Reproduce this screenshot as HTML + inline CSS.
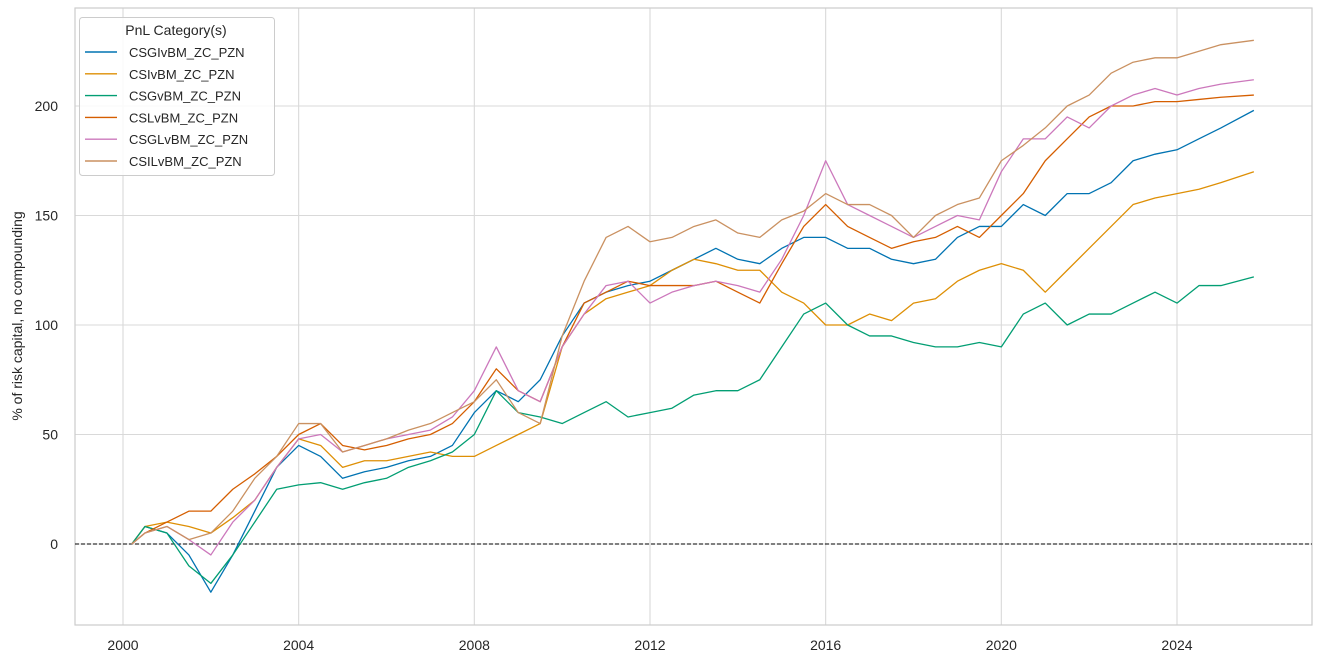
<!DOCTYPE html>
<html><head><meta charset="utf-8"><style>
body{margin:0;background:#fff;}
svg{display:block;font-family:"Liberation Sans",Arial,sans-serif;}
</style></head><body>
<svg id="chart" width="1321" height="664"></svg>
<script>
const dates=[2000.2,2000.5,2001,2001.5,2002,2002.5,2003,2003.5,2004,2004.5,2005,2005.5,2006,2006.5,2007,2007.5,2008,2008.5,2009,2009.5,2010,2010.5,2011,2011.5,2012,2012.5,2013,2013.5,2014,2014.5,2015,2015.5,2016,2016.5,2017,2017.5,2018,2018.5,2019,2019.5,2020,2020.5,2021,2021.5,2022,2022.5,2023,2023.5,2024,2024.5,2025,2025.75];
const csgi=[0,8,5,-5,-22,-5,15,35,45,40,30,33,35,38,40,45,60,70,65,75,95,110,115,118,120,125,130,135,130,128,135,140,140,135,135,130,128,130,140,145,145,155,150,160,160,165,175,178,180,185,190,198];
const csi=[0,8,10,8,5,12,20,35,48,45,35,38,38,40,42,40,40,45,50,55,90,105,112,115,118,125,130,128,125,125,115,110,100,100,105,102,110,112,120,125,128,125,115,125,135,145,155,158,160,162,165,170];
const csg=[0,8,5,-10,-18,-5,10,25,27,28,25,28,30,35,38,42,50,70,60,58,55,60,65,58,60,62,68,70,70,75,90,105,110,100,95,95,92,90,90,92,90,105,110,100,105,105,110,115,110,118,118,122];
const csl=[0,5,10,15,15,25,32,40,50,55,45,43,45,48,50,55,65,80,70,65,90,110,115,120,118,118,118,120,115,110,128,145,155,145,140,135,138,140,145,140,150,160,175,185,195,200,200,202,202,203,204,205];
const csgl=[0,5,8,2,-5,10,20,35,48,50,42,45,48,50,52,58,70,90,70,65,90,105,118,120,110,115,118,120,118,115,130,150,175,155,150,145,140,145,150,148,170,185,185,195,190,200,205,208,205,208,210,212];
const csil=[0,5,8,2,5,15,30,40,55,55,42,45,48,52,55,60,65,75,60,55,95,120,140,145,138,140,145,148,142,140,148,152,160,155,155,150,140,150,155,158,175,182,190,200,205,215,220,222,222,225,228,230];
const seriesNames=["CSGIvBM_ZC_PZN","CSIvBM_ZC_PZN","CSGvBM_ZC_PZN","CSLvBM_ZC_PZN","CSGLvBM_ZC_PZN","CSILvBM_ZC_PZN"];
const yTicks=[0,50,100,150,200];
const xTicks=[2000,2004,2008,2012,2016,2020,2024];

const colors=["#0173b2","#de8f05","#029e73","#d55e00","#cc78bc","#ca9161"];
const series=[csgi,csi,csg,csl,csgl,csil];
const L=75,R=1312,T=8,B=625;
const X=d=>123+(d-2000)*(1177-123)/24;
const Y=v=>544-v*(544-106)/200;
const svg=document.getElementById('chart');
const NS="http://www.w3.org/2000/svg";
function mk(tag,attrs,parent){const e=document.createElementNS(NS,tag);for(const k in attrs)e.setAttribute(k,attrs[k]);(parent||svg).appendChild(e);return e;}
const grid=mk('g',{});


yTicks.forEach(v=>{
 const l=mk('line',{x1:L,x2:R,y1:Y(v),y2:Y(v),stroke:"#d9d9d9","stroke-width":1.1},grid);
 
 
 const t=mk('text',{x:58,y:Y(v)+5,"text-anchor":"end","font-size":14,fill:"#262626"});
 t.textContent=v;
 
 
});
xTicks.forEach(v=>{
 const l=mk('line',{x1:X(v),x2:X(v),y1:T,y2:B,stroke:"#d9d9d9","stroke-width":1.1},grid);
 
 
 const t=mk('text',{x:X(v),y:650,"text-anchor":"middle","font-size":14,fill:"#262626"});
 t.textContent=v;
 
 
});
const frame=mk('rect',{x:L,y:T,width:R-L,height:B-T,fill:"none",stroke:"#cccccc","stroke-width":1.2});


const zl=mk('line',{x1:L,x2:R,y1:Y(0),y2:Y(0),stroke:"#000","stroke-width":1.1,"stroke-dasharray":"4,2"});


series.forEach((s,i)=>{
 const p=mk('polyline',{points:s.map((v,j)=>X(dates[j])+","+Y(v)).join(" "),fill:"none",stroke:colors[i],"stroke-width":1.3,"stroke-linejoin":"round"});
 
 
});
const yl=mk('text',{x:22,y:316,"text-anchor":"middle","font-size":14,fill:"#262626",transform:"rotate(-90 22 316)"});
yl.textContent="% of risk capital, no compounding";


const lg=mk('g',{});


mk('rect',{x:79.5,y:17.5,width:195,height:158,rx:3,fill:"#fff","fill-opacity":0.85,stroke:"#cccccc"},lg);
const lt=mk('text',{x:176,y:35,"text-anchor":"middle","font-size":14,fill:"#262626"},lg);
lt.textContent="PnL Category(s)";


seriesNames.forEach((n,i)=>{
 const y=52+i*21.8;
 const g=mk('g',{},lg);
 
 
 mk('line',{x1:85,x2:117,y1:y,y2:y,stroke:colors[i],"stroke-width":1.4},g);
 const t=mk('text',{x:129,y:y+5,"font-size":13,fill:"#262626"},g);
 t.textContent=n;
});
</script>
</body></html>
